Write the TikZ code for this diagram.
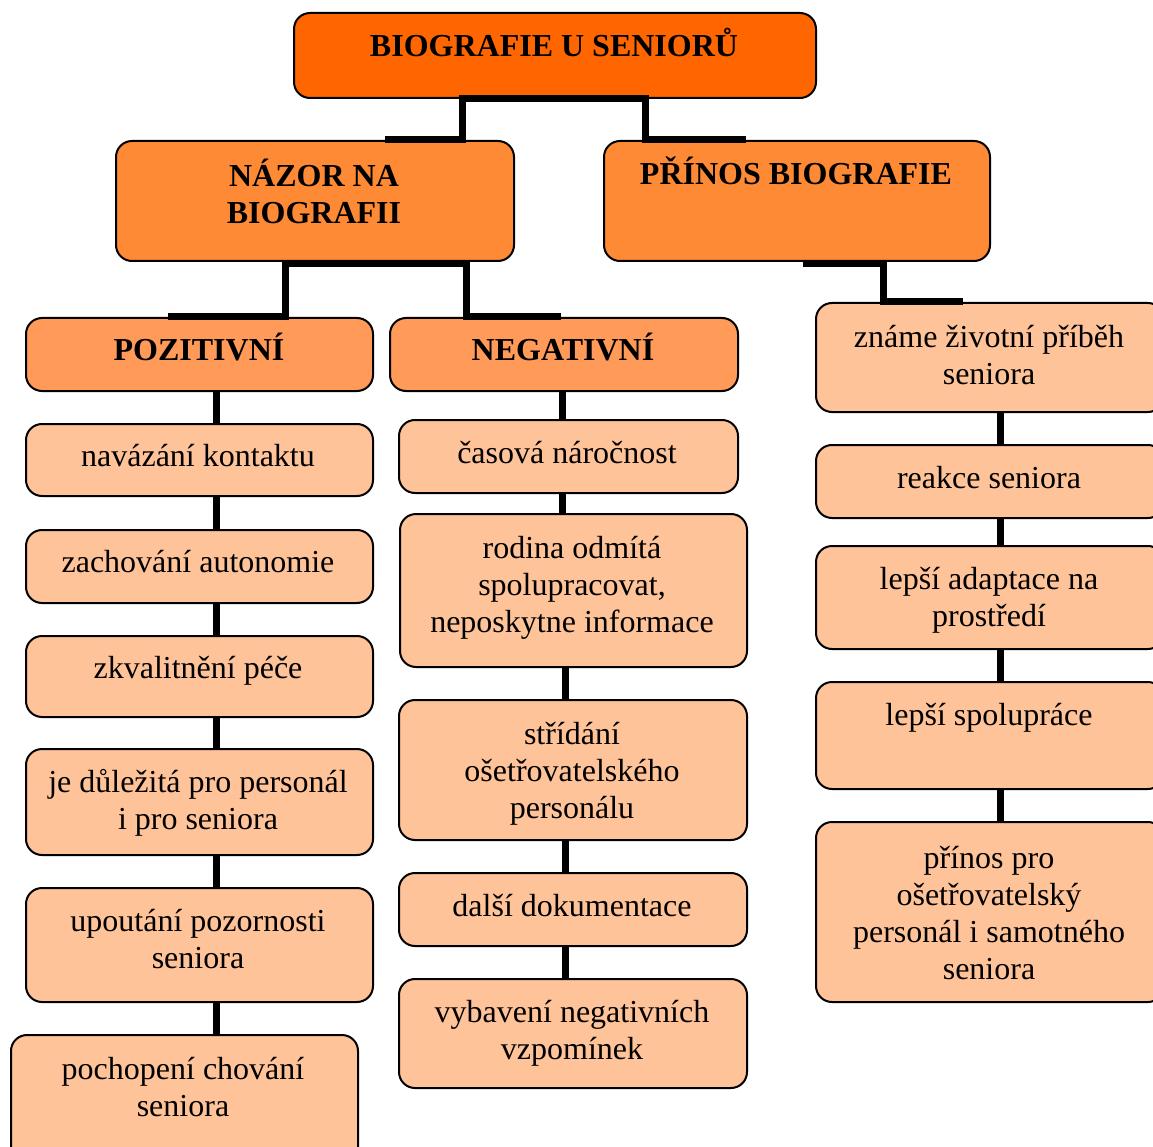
\documentclass[tikz,border=0pt]{standalone}
\usepackage{fontspec}
\setmainfont{Liberation Serif}
\definecolor{lvlA}{HTML}{FF6600}
\definecolor{lvlB}{HTML}{FF8A35}
\definecolor{lvlC}{HTML}{FF9A58}
\definecolor{lvlD}{HTML}{FFC399}
\tikzset{
  box/.style={draw=black, line width=2pt, rounded corners=16pt, anchor=north west, inner sep=0pt},
  conn/.style={line width=7pt, draw=black},
  txt/.style={font=\fontsize{32}{37}\selectfont, align=center, inner sep=0pt},
  head/.style={font=\fontsize{32}{37}\selectfont\bfseries, align=center, inner sep=0pt},
}
\begin{document}
\begin{tikzpicture}[x=1pt,y=-1pt]
\clip (0,0) rectangle (1153,1147);
\fill[white] (0,0) rectangle (1153,1147);

% --- boxes ---
\node[box, fill=lvlA, minimum width=522pt, minimum height=85pt] (top) at (293,12) {};
\node[box, fill=lvlB, minimum width=398pt, minimum height=120pt] (nazor) at (115,140) {};
\node[box, fill=lvlB, minimum width=386pt, minimum height=120pt] (prinos) at (603,140) {};
\node[box, fill=lvlC, minimum width=347pt, minimum height=73pt] (poz) at (25,317) {};
\node[box, fill=lvlC, minimum width=348pt, minimum height=73pt] (neg) at (389,317) {};

% positive column
\node[box, fill=lvlD, minimum width=347pt, minimum height=72pt] (p1) at (25,423) {};
\node[box, fill=lvlD, minimum width=347pt, minimum height=73pt] (p2) at (25,529) {};
\node[box, fill=lvlD, minimum width=347pt, minimum height=81pt] (p3) at (25,635) {};
\node[box, fill=lvlD, minimum width=347pt, minimum height=106pt] (p4) at (25,748) {};
\node[box, fill=lvlD, minimum width=347pt, minimum height=114pt] (p5) at (25,887) {};
\node[box, fill=lvlD, minimum width=347pt, minimum height=130pt] (p6) at (10,1034) {};

% negative column
\node[box, fill=lvlD, minimum width=339pt, minimum height=73pt] (n1) at (398,419) {};
\node[box, fill=lvlD, minimum width=347pt, minimum height=153pt] (n2) at (399,513) {};
\node[box, fill=lvlD, minimum width=348pt, minimum height=140pt] (n3) at (398,699) {};
\node[box, fill=lvlD, minimum width=348pt, minimum height=73pt] (n4) at (398,872) {};
\node[box, fill=lvlD, minimum width=348pt, minimum height=109pt] (n5) at (398,978) {};

% benefit column
\node[box, fill=lvlD, minimum width=348pt, minimum height=109pt] (r1) at (815,302) {};
\node[box, fill=lvlD, minimum width=348pt, minimum height=73pt] (r2) at (815,444) {};
\node[box, fill=lvlD, minimum width=348pt, minimum height=103pt] (r3) at (815,545) {};
\node[box, fill=lvlD, minimum width=348pt, minimum height=107pt] (r4) at (815,681) {};
\node[box, fill=lvlD, minimum width=348pt, minimum height=180pt] (r5) at (815,821) {};

% --- texts ---
\node[head] (ttop) at (554,42) {BIOGRAFIE U SENIORŮ};
\node[head] (tnazor) at (314,191) {NÁZOR NA\\BIOGRAFII};
\node[head] (tprinos) at (796,171) {PŘÍNOS BIOGRAFIE};
\node[head] (tpoz) at (199,347) {POZITIVNÍ};
\node[head] (tneg) at (563,347) {NEGATIVNÍ};

\node[txt] (tp1) at (198,456) {navázání kontaktu};
\node[txt] (tp2) at (198,562) {zachování autonomie};
\node[txt] (tp3) at (198,671) {zkvalitnění péče};
\node[txt] (tp4) at (198,803) {je důležitá pro personál\\i pro seniora};
\node[txt] (tp5) at (198,939) {upoutání pozornosti\\seniora};
\node[txt] (tp6) at (183,1087) {pochopení chování\\seniora};

\node[txt] (tn1) at (567,453) {časová náročnost};
\node[txt] (tn2) at (572,588) {rodina odmítá\\spolupracovat,\\neposkytne informace};
\node[txt] (tn3) at (572,774) {střídání\\ošetřovatelského\\personálu};
\node[txt] (tn4) at (572,906) {další dokumentace};
\node[txt] (tn5) at (572,1033) {vybavení negativních\\vzpomínek};

\node[txt] (tr1) at (989,355) {známe životní příběh\\seniora};
\node[txt] (tr2) at (989,478) {reakce seniora};
\node[txt] (tr3) at (989,600) {lepší adaptace na\\prostředí};
\node[txt] (tr4) at (989,718) {lepší spolupráce};
\node[txt] (tr5) at (989,913) {přínos pro\\ošetřovatelský\\personál i samotného\\seniora};

% --- connectors ---
\draw[conn] (top.south -| 543,0) -| (nazor.north -| 462,0) -- (nazor.north -| 385,0);
\draw[conn] (top.south -| 543,0) -| (prinos.north -| 645,0) -- (prinos.north -| 746,0);
\draw[conn] ([yshift=-2pt]nazor.south -| 356,0) -| (poz.north -| 285,0) -- (poz.north -| 168,0);
\draw[conn] ([yshift=-2pt]nazor.south -| 356,0) -| (neg.north -| 466,0) -- (neg.north -| 561,0);
\draw[conn] ([yshift=-2pt]prinos.south -| 803,0) -| (r1.north -| 883,0) -- (r1.north -| 963,0);

\draw[conn] (poz.south -| 216,0) -- (p1.north -| 216,0);
\draw[conn] (p1.south -| 216,0) -- (p2.north -| 216,0);
\draw[conn] (p2.south -| 216,0) -- (p3.north -| 216,0);
\draw[conn] (p3.south -| 216,0) -- (p4.north -| 216,0);
\draw[conn] (p4.south -| 216,0) -- (p5.north -| 216,0);
\draw[conn] (p5.south -| 216,0) -- (p6.north -| 216,0);

\draw[conn] (neg.south -| 562,0) -- (n1.north -| 562,0);
\draw[conn] (n1.south -| 562,0) -- (n2.north -| 562,0);
\draw[conn] (n2.south -| 565,0) -- (n3.north -| 565,0);
\draw[conn] (n3.south -| 565,0) -- (n4.north -| 565,0);
\draw[conn] (n4.south -| 565,0) -- (n5.north -| 565,0);

\draw[conn] (r1.south -| 1000,0) -- (r2.north -| 1000,0);
\draw[conn] (r2.south -| 1000,0) -- (r3.north -| 1000,0);
\draw[conn] (r3.south -| 1000,0) -- (r4.north -| 1000,0);
\draw[conn] (r4.south -| 1000,0) -- (r5.north -| 1000,0);
\end{tikzpicture}
\end{document}
